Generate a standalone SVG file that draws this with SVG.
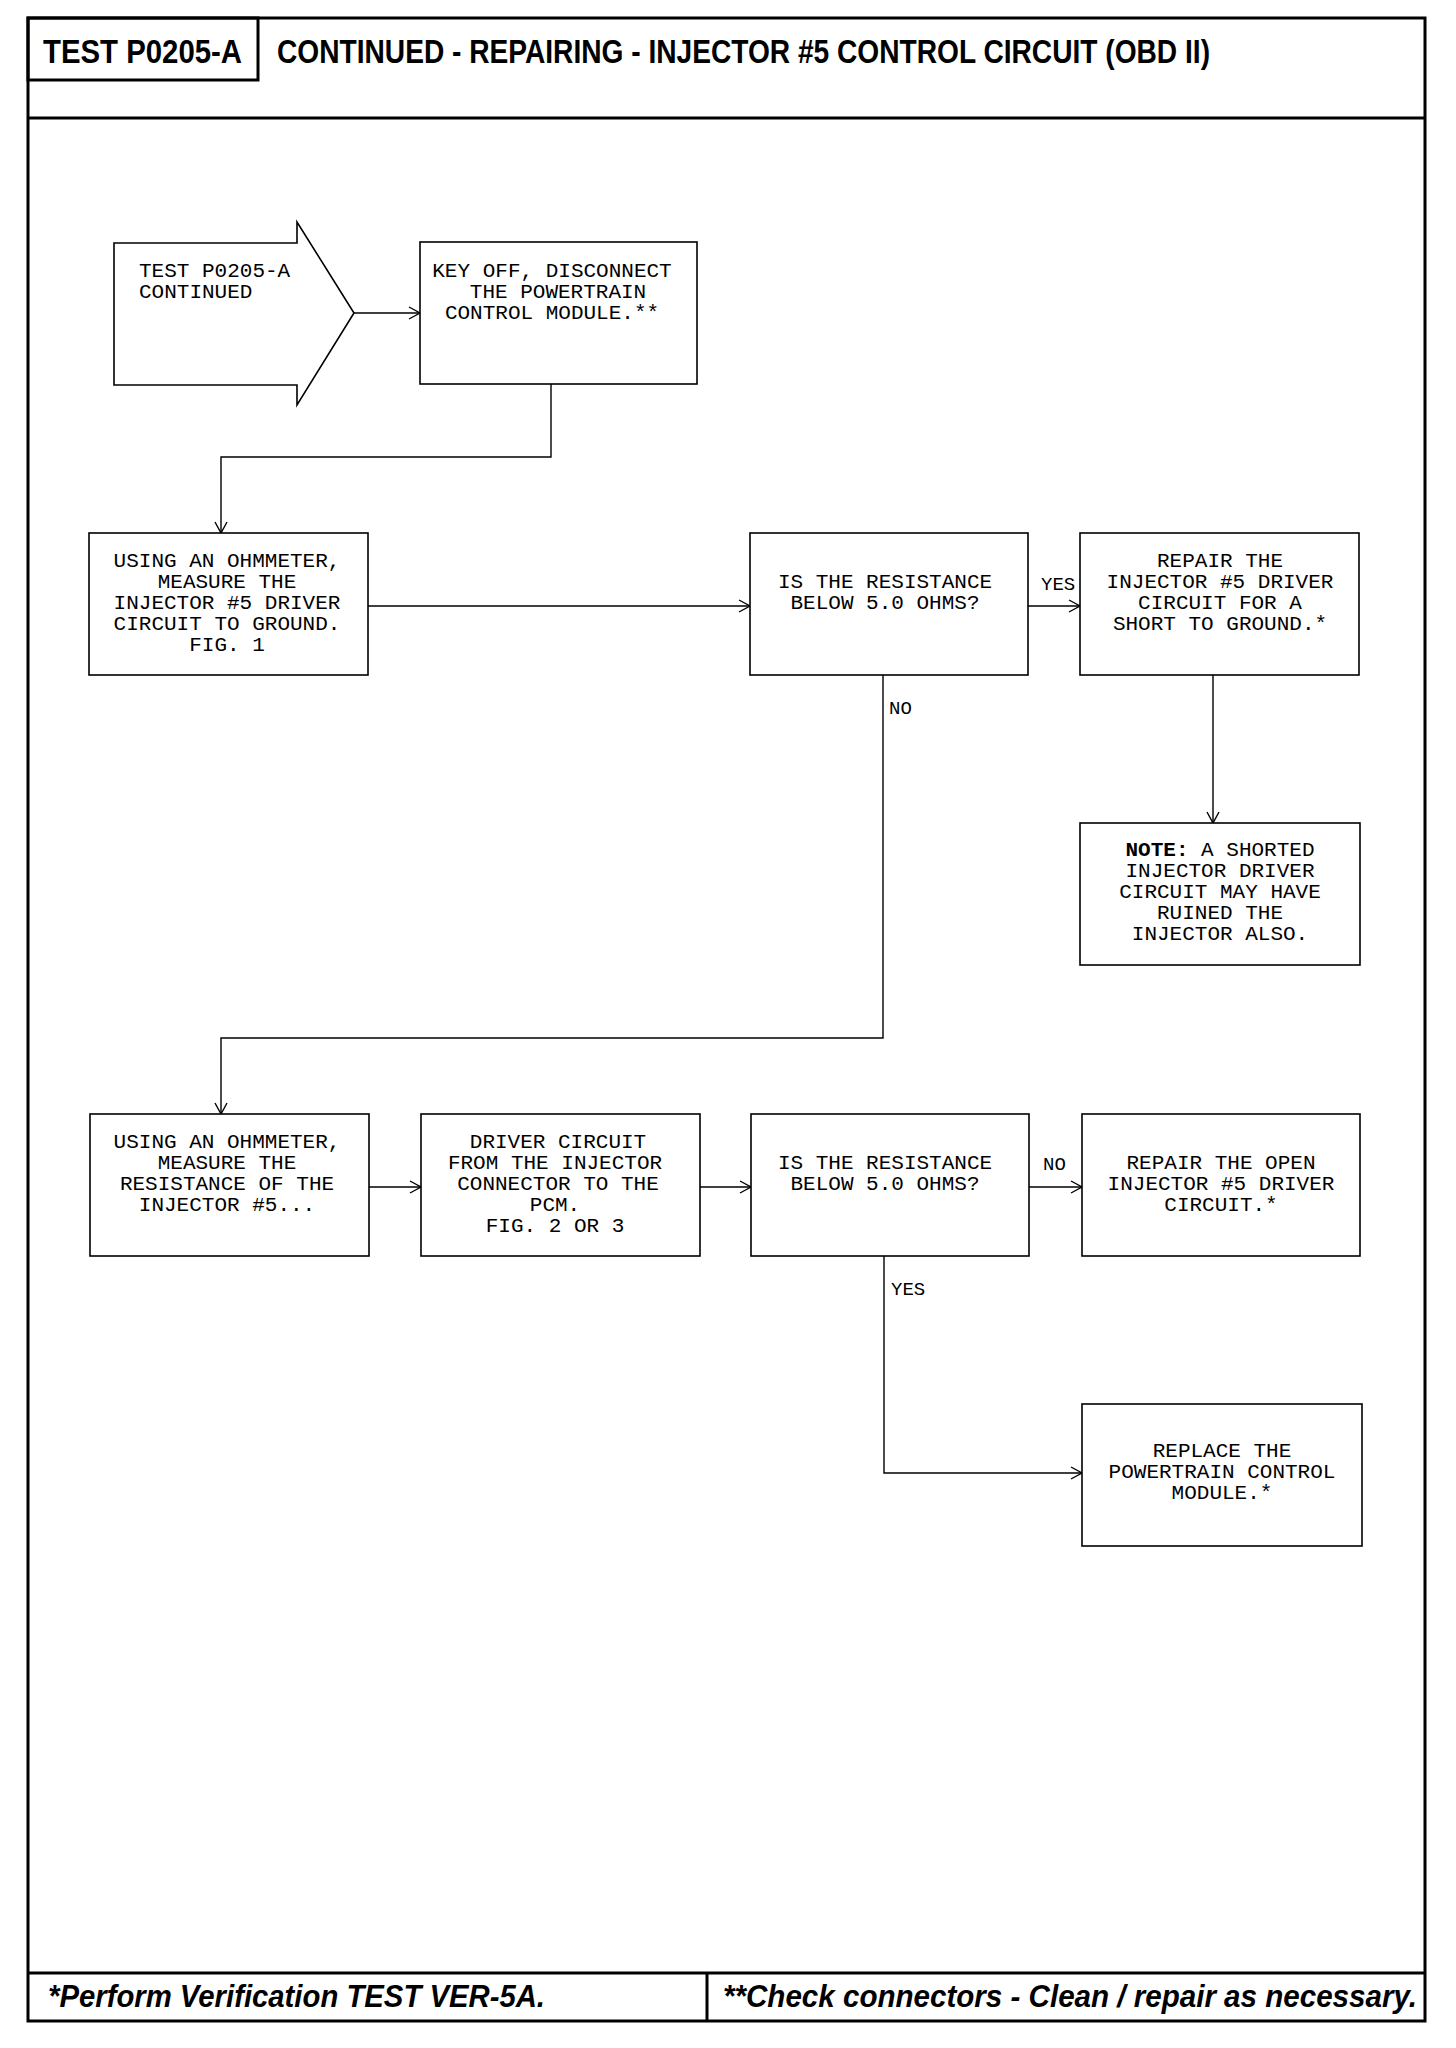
<svg xmlns="http://www.w3.org/2000/svg" width="1456" height="2048" viewBox="0 0 1456 2048">
<style>
.frame{fill:none;stroke:#000;stroke-width:3}
.box{fill:#fff;stroke:#000;stroke-width:1.6}
.con{fill:none;stroke:#000;stroke-width:1.4}
.t{font-family:"Liberation Mono","DejaVu Sans Mono",monospace;font-size:21px;fill:#000;text-anchor:middle}
.tl{font-family:"Liberation Mono","DejaVu Sans Mono",monospace;font-size:21px;fill:#000}
.lbl{font-family:"Liberation Mono","DejaVu Sans Mono",monospace;font-size:19px;fill:#000}
.hd{font-family:"Liberation Sans",Arial,sans-serif;font-weight:bold;font-size:33px;fill:#000}
.ft{font-family:"Liberation Sans",Arial,sans-serif;font-weight:bold;font-style:italic;font-size:31px;fill:#000}
</style>
<defs>
<marker id="ah" markerUnits="userSpaceOnUse" markerWidth="14" markerHeight="14" refX="12" refY="7" orient="auto">
<path d="M1,1 L12,7 L1,13" fill="none" stroke="#000" stroke-width="1.4"/>
</marker>
</defs>
<g id="page">
<rect class="frame" x="28" y="18" width="1397" height="2003"/>
<line class="frame" x1="28" y1="118" x2="1425" y2="118"/>
<rect class="frame" x="28" y="18" width="230" height="62"/>
<text class="hd" x="43" y="63" textLength="199" lengthAdjust="spacingAndGlyphs">TEST P0205-A</text>
<text class="hd" x="277" y="63" textLength="933" lengthAdjust="spacingAndGlyphs">CONTINUED - REPAIRING - INJECTOR #5 CONTROL CIRCUIT (OBD II)</text>
<line class="frame" x1="28" y1="1973" x2="1425" y2="1973"/>
<line class="frame" x1="707" y1="1973" x2="707" y2="2021"/>
<text class="ft" x="48" y="2007" textLength="497" lengthAdjust="spacingAndGlyphs">*Perform Verification TEST VER-5A.</text>
<text class="ft" x="723" y="2007" textLength="694" lengthAdjust="spacingAndGlyphs">**Check connectors - Clean / repair as necessary.</text>
</g>
<g id="connectors">
<line class="con" x1="354" y1="313" x2="420" y2="313" marker-end="url(#ah)"/>
<polyline class="con" points="551,384 551,457 221,457 221,533" marker-end="url(#ah)"/>
<line class="con" x1="368" y1="606" x2="750" y2="606" marker-end="url(#ah)"/>
<line class="con" x1="1028" y1="606" x2="1080" y2="606" marker-end="url(#ah)"/>
<line class="con" x1="1213" y1="675" x2="1213" y2="823" marker-end="url(#ah)"/>
<polyline class="con" points="883,675 883,1038 221,1038 221,1114" marker-end="url(#ah)"/>
<line class="con" x1="369" y1="1187" x2="421" y2="1187" marker-end="url(#ah)"/>
<line class="con" x1="700" y1="1187" x2="751" y2="1187" marker-end="url(#ah)"/>
<line class="con" x1="1029" y1="1187" x2="1082" y2="1187" marker-end="url(#ah)"/>
<polyline class="con" points="884,1256 884,1473 1082,1473" marker-end="url(#ah)"/>
<text class="lbl" x="1041" y="590">YES</text>
<text class="lbl" x="889" y="714">NO</text>
<text class="lbl" x="1043" y="1170">NO</text>
<text class="lbl" x="891" y="1295">YES</text>
</g>
<g id="start">
<polygon class="box" points="114,243 297,243 297,222 354,313 297,405 297,385 114,385"/>
<text class="tl" x="139" y="277">TEST P0205-A</text>
<text class="tl" x="139" y="298">CONTINUED</text>
</g>
<g id="keyoff">
<rect class="box" x="420" y="242" width="277" height="142"/>
<text class="t" x="552" y="277">KEY OFF, DISCONNECT</text>
<text class="t" x="558" y="298">THE POWERTRAIN</text>
<text class="t" x="552" y="319">CONTROL MODULE.**</text>
</g>
<g id="measure1">
<rect class="box" x="89" y="533" width="279" height="142"/>
<text class="t" x="227" y="567">USING AN OHMMETER,</text>
<text class="t" x="227" y="588">MEASURE THE</text>
<text class="t" x="227" y="609">INJECTOR #5 DRIVER</text>
<text class="t" x="227" y="630">CIRCUIT TO GROUND.</text>
<text class="t" x="227" y="651">FIG. 1</text>
</g>
<g id="decision1">
<rect class="box" x="750" y="533" width="278" height="142"/>
<text class="t" x="885" y="588">IS THE RESISTANCE</text>
<text class="t" x="885" y="609">BELOW 5.0 OHMS?</text>
</g>
<g id="repair1">
<rect class="box" x="1080" y="533" width="279" height="142"/>
<text class="t" x="1220" y="567">REPAIR THE</text>
<text class="t" x="1220" y="588">INJECTOR #5 DRIVER</text>
<text class="t" x="1220" y="609">CIRCUIT FOR A</text>
<text class="t" x="1220" y="630">SHORT TO GROUND.*</text>
</g>
<g id="note">
<rect class="box" x="1080" y="823" width="280" height="142"/>
<text class="t" x="1220" y="856"><tspan font-weight="bold">NOTE:</tspan> A SHORTED</text>
<text class="t" x="1220" y="877">INJECTOR DRIVER</text>
<text class="t" x="1220" y="898">CIRCUIT MAY HAVE</text>
<text class="t" x="1220" y="919">RUINED THE</text>
<text class="t" x="1220" y="940">INJECTOR ALSO.</text>
</g>
<g id="measure2">
<rect class="box" x="90" y="1114" width="279" height="142"/>
<text class="t" x="227" y="1148">USING AN OHMMETER,</text>
<text class="t" x="227" y="1169">MEASURE THE</text>
<text class="t" x="227" y="1190">RESISTANCE OF THE</text>
<text class="t" x="227" y="1211">INJECTOR #5...</text>
</g>
<g id="driver">
<rect class="box" x="421" y="1114" width="279" height="142"/>
<text class="t" x="558" y="1148">DRIVER CIRCUIT</text>
<text class="t" x="555" y="1169">FROM THE INJECTOR</text>
<text class="t" x="558" y="1190">CONNECTOR TO THE</text>
<text class="t" x="555" y="1211">PCM.</text>
<text class="t" x="555" y="1232">FIG. 2 OR 3</text>
</g>
<g id="decision2">
<rect class="box" x="751" y="1114" width="278" height="142"/>
<text class="t" x="885" y="1169">IS THE RESISTANCE</text>
<text class="t" x="885" y="1190">BELOW 5.0 OHMS?</text>
</g>
<g id="repair2">
<rect class="box" x="1082" y="1114" width="278" height="142"/>
<text class="t" x="1221" y="1169">REPAIR THE OPEN</text>
<text class="t" x="1221" y="1190">INJECTOR #5 DRIVER</text>
<text class="t" x="1221" y="1211">CIRCUIT.*</text>
</g>
<g id="replace">
<rect class="box" x="1082" y="1404" width="280" height="142"/>
<text class="t" x="1222" y="1457">REPLACE THE</text>
<text class="t" x="1222" y="1478">POWERTRAIN CONTROL</text>
<text class="t" x="1222" y="1499">MODULE.*</text>
</g>
</svg>
